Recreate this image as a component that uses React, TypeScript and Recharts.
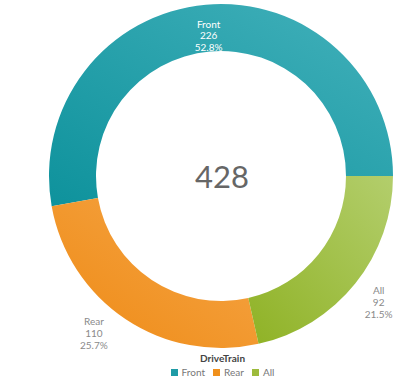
import { PieChart, Pie, Cell, Legend } from "recharts";

const categories = ["Front", "Rear", "All"];
const counts = [226, 110, 92];
const percents = ["52.8%", "25.7%", "21.5%"];
const legendTitle = "DriveTrain";

const COLORS = [
  { dark: "#0e929c", light: "#43b1bb", mark: "#1f9ba6" },
  { dark: "#ee8a14", light: "#f6a74a", mark: "#f0901c" },
  { dark: "#8fb225", light: "#b3ce6c", mark: "#9dbb3c" },
];

const data = categories.map((name, i) => ({
  name,
  value: counts[i],
  pct: percents[i],
}));

const total = counts.reduce((a, b) => a + b, 0);

const RAD = Math.PI / 180;
// outside labels must stay above the legend block
const LABEL_MAX_Y = 333;

const renderLabel = (props: any) => {
  const { cx, cy, midAngle, outerRadius, index, payload } = props;
  const inside = index === 0;
  const r = inside ? outerRadius - 31 : outerRadius + 30;
  let x = cx + r * Math.cos(-midAngle * RAD);
  let y = cy + r * Math.sin(-midAngle * RAD);
  if (!inside && y > LABEL_MAX_Y) {
    // slide along the label circle until it clears the legend
    y = LABEL_MAX_Y;
    const dx = Math.sqrt(Math.max(0, r * r - (y - cy) * (y - cy)));
    x = x < cx ? cx - dx : cx + dx;
  }
  const fill = inside ? "#ffffff" : "#8a8a8a";
  const lines = [payload.name, String(payload.value), payload.pct];
  return (
    <text
      x={x}
      y={y - 11}
      textAnchor="middle"
      fill={fill}
      fontSize={10}
      fontFamily="Lato, sans-serif"
    >
      {lines.map((l, i) => (
        <tspan key={i} x={x} dy={i === 0 ? 3 : 11.8}>
          {l}
        </tspan>
      ))}
    </text>
  );
};

const renderLegend = () => (
  <div style={{ textAlign: "center", fontFamily: "Lato, sans-serif" }}>
    <div style={{ fontSize: 10, fontWeight: 700, color: "#444", lineHeight: "12px" }}>
      {legendTitle}
    </div>
    <div style={{ display: "flex", justifyContent: "center", gap: 8, marginTop: 2 }}>
      {categories.map((name, i) => (
        <div key={name} style={{ display: "flex", alignItems: "center", gap: 4 }}>
          <div style={{ width: 7, height: 7, background: COLORS[i].mark }} />
          <span style={{ fontSize: 10, color: "#777", lineHeight: "12px" }}>{name}</span>
        </div>
      ))}
    </div>
  </div>
);

export default function App() {
  return (
    <div style={{ position: "absolute", left: 0, top: 0, width: 405, height: 384, background: "#fff" }}>
      <PieChart width={405} height={384} margin={{ top: 0, right: 0, bottom: 0, left: 0 }}>
        <defs>
          {COLORS.map((c, i) => (
            <linearGradient key={i} id={`grad${i}`} x1="0" y1="1" x2="1" y2="0">
              <stop offset="0%" stopColor={c.dark} />
              <stop offset="100%" stopColor={c.light} />
            </linearGradient>
          ))}
        </defs>
        <Pie
          data={data}
          dataKey="value"
          nameKey="name"
          cx={221}
          cy={176}
          innerRadius={125}
          outerRadius={172}
          startAngle={0}
          endAngle={360}
          stroke="none"
          label={renderLabel}
          labelLine={false}
          isAnimationActive={false}
        >
          {data.map((d, i) => (
            <Cell key={d.name} fill={`url(#grad${i})`} />
          ))}
        </Pie>
        <text
          x={222}
          y={176}
          textAnchor="middle"
          dominantBaseline="central"
          fill="#666"
          fontSize={31}
          fontFamily="Lato, sans-serif"
        >
          {total}
        </text>
        <Legend
          verticalAlign="bottom"
          align="center"
          content={renderLegend}
          wrapperStyle={{ bottom: 6, left: 20, width: 405 }}
        />
      </PieChart>
    </div>
  );
}
